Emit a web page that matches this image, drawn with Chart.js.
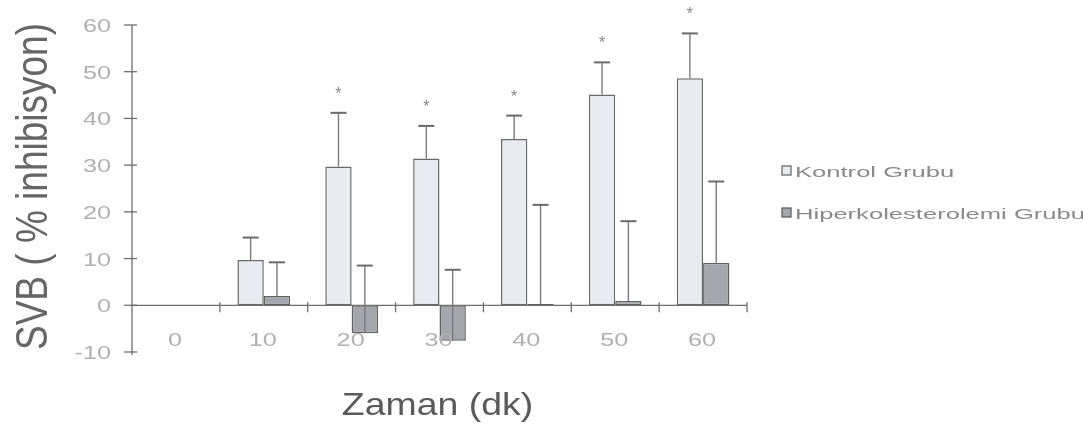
<!DOCTYPE html>
<html>
<head>
<meta charset="utf-8">
<script src="https://cdn.jsdelivr.net/npm/chart.js@4.4.1/dist/chart.umd.min.js"></script>
<style>
  html, body { margin: 0; padding: 0; background: #ffffff; }
  canvas { display: block; }
</style>
</head>
<body>
<canvas id="chart" width="1083" height="424"></canvas>
<script>
// Time points (minutes)
const times = ['0', '10', '20', '30', '40', '50', '60'];

// Mean % inhibition and standard deviation for each group
const kontrolMean = [null, 9.7, 29.7, 31.4, 35.6, 45.1, 48.6];
const kontrolSD   = [null, 4.8, 11.5, 7.0, 5.0, 6.9, 9.6];
const hiperMean   = [null, 2.0, -6.0, -7.6, 0.3, 0.9, 9.1];
const hiperSD     = [null, 7.2, 14.5, 15.2, 21.2, 17.1, 17.4];

// Significance markers above the control group
const significant = [false, false, true, true, true, true, true];

const seriesNames = ['Kontrol Grubu', 'Hiperkolesterolemi Grubu'];
const yRange = [-10, 60];
const yStep = 10;
const xTitle = 'Zaman (dk)';
const yTitle = 'SVB ( % inhibisyon)';

const FONT = '"Liberation Sans", Arial, sans-serif';
const colors = {
  kontrolFill: '#e8ecf2', kontrolEdge: '#6a6a6a',
  hiperFill: '#a3a7ad', hiperEdge: '#5f6163',
  axis: '#6e6e6e', whisker: '#7a7a7a',
  tick: '#b0b0b0', title: '#5a5a5a', legend: '#8a8a8a'
};

// Text drawn with a horizontal stretch factor
function stretchedText(ctx, text, x, y, size, color, sx, align) {
  ctx.save();
  ctx.font = size + 'px ' + FONT;
  ctx.fillStyle = color;
  ctx.textAlign = align;
  ctx.textBaseline = 'alphabetic';
  ctx.translate(x, y);
  ctx.scale(sx, 1);
  ctx.fillText(text, 0, 0);
  ctx.restore();
}

function seg(ctx, x1, y1, x2, y2) {
  ctx.beginPath();
  ctx.moveTo(x1, y1);
  ctx.lineTo(x2, y2);
  ctx.stroke();
}

const decorations = {
  id: 'decorations',
  afterDatasetsDraw(chart) {
    const { ctx, chartArea: a, scales: { x, y } } = chart;
    const zero = y.getPixelForValue(0);
    const top = y.getPixelForValue(yRange[1]);
    const bottom = y.getPixelForValue(yRange[0]);
    const step = x.getPixelForValue(1) - x.getPixelForValue(0);

    ctx.save();
    // error whiskers (mean -> mean + SD)
    [[kontrolMean, kontrolSD], [hiperMean, hiperSD]].forEach(([m, sd], di) => {
      const meta = chart.getDatasetMeta(di);
      meta.data.forEach((bar, i) => {
        if (m[i] == null) return;
        const yt = y.getPixelForValue(m[i] + sd[i]);
        ctx.strokeStyle = colors.whisker;
        ctx.lineWidth = 1.4;
        seg(ctx, bar.x, bar.y, bar.x, yt);
        ctx.lineWidth = 2;
        ctx.strokeStyle = '#6a6a6a';
        seg(ctx, bar.x - 8, yt, bar.x + 8, yt);
        if (di === 0 && significant[i]) {
          ctx.save();
          ctx.font = '16px ' + FONT;
          ctx.fillStyle = '#858585';
          ctx.textAlign = 'center';
          ctx.textBaseline = 'alphabetic';
          ctx.fillText('*', bar.x, yt - 14);
          ctx.restore();
        }
      });
    });

    // axes
    ctx.strokeStyle = colors.axis;
    ctx.lineWidth = 1.3;
    seg(ctx, a.left, top, a.left, bottom + 3);
    y.ticks.forEach(t => {
      const py = y.getPixelForValue(t.value);
      seg(ctx, a.left - 8, py, a.left + 5, py);
    });
    seg(ctx, a.left, zero, a.right, zero);
    for (let i = 0; i < times.length; i++) {
      const bx = x.getPixelForValue(i) + step / 2;
      seg(ctx, bx, zero - 3, bx, zero + 7);
    }
    ctx.restore();
  },
  afterDraw(chart) {
    const { ctx, chartArea: a, scales: { x, y } } = chart;

    // y tick labels
    y.ticks.forEach(t => {
      const py = y.getPixelForValue(t.value);
      stretchedText(ctx, String(t.value), a.left - 21, py + 7, 19, colors.tick, 1.33, 'right');
    });
    // x tick labels
    times.forEach((label, i) => {
      stretchedText(ctx, label, x.getPixelForValue(i) - 1, 346, 19, colors.tick, 1.33, 'center');
    });

    // axis titles
    stretchedText(ctx, xTitle, (a.left + a.right) / 2 - 2, 415, 32, colors.title, 1.17, 'center');
    ctx.save();
    ctx.translate(47, (a.top + a.bottom) / 2 - 2);
    ctx.rotate(-Math.PI / 2);
    ctx.scale(1, 1.18);
    ctx.font = '37px ' + FONT;
    ctx.fillStyle = '#666666';
    ctx.textAlign = 'center';
    ctx.textBaseline = 'alphabetic';
    ctx.fillText(yTitle, 0, 0);
    ctx.restore();

    // legend
    const items = [
      { name: seriesNames[0], fill: colors.kontrolFill, edge: colors.kontrolEdge, cy: 171 },
      { name: seriesNames[1], fill: colors.hiperFill, edge: colors.hiperEdge, cy: 213 }
    ];
    items.forEach(it => {
      ctx.save();
      ctx.fillStyle = it.fill;
      ctx.strokeStyle = it.edge;
      ctx.lineWidth = 1.3;
      ctx.fillRect(782, it.cy - 5, 9, 9);
      ctx.strokeRect(782, it.cy - 5, 9, 9);
      ctx.restore();
      stretchedText(ctx, it.name, 795, it.cy + 6, 15.5, colors.legend, 1.65, 'left');
    });
  }
};

new Chart(document.getElementById('chart'), {
  type: 'bar',
  data: {
    labels: times,
    datasets: [
      {
        label: seriesNames[0],
        data: kontrolMean,
        backgroundColor: colors.kontrolFill,
        borderColor: colors.kontrolEdge,
        borderWidth: 1.5,
        borderSkipped: false,
        categoryPercentage: 0.6,
        barPercentage: 1.0
      },
      {
        label: seriesNames[1],
        data: hiperMean,
        backgroundColor: colors.hiperFill,
        borderColor: colors.hiperEdge,
        borderWidth: 1.5,
        borderSkipped: false,
        categoryPercentage: 0.6,
        barPercentage: 1.0
      }
    ]
  },
  options: {
    responsive: false,
    animation: false,
    devicePixelRatio: 1,
    layout: { padding: { left: 132, right: 336, top: 25, bottom: 72 } },
    plugins: { legend: { display: false }, tooltip: { enabled: false } },
    scales: {
      x: {
        grid: { display: false },
        border: { display: false },
        ticks: { display: false },
        afterFit(s) { s.height = 0; }
      },
      y: {
        min: yRange[0],
        max: yRange[1],
        ticks: { display: false, stepSize: yStep },
        grid: { display: false },
        border: { display: false },
        afterFit(s) { s.width = 0; }
      }
    }
  },
  plugins: [decorations]
});
</script>
</body>
</html>
